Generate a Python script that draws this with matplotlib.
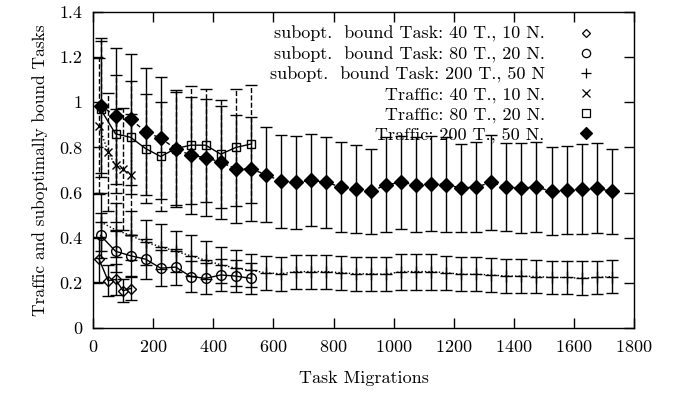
import matplotlib
matplotlib.use("Agg")
import matplotlib.pyplot as plt
from matplotlib.lines import Line2D
from matplotlib.ticker import FuncFormatter

plt.rcParams["font.family"] = ["cmr10", "DejaVu Serif"]
plt.rcParams["axes.formatter.use_mathtext"] = True
plt.rcParams["mathtext.fontset"] = "cm"

# migrations axis for the long runs (200 tasks, 50 nodes)
x_long = [25, 75, 125, 175, 225, 275, 325, 375, 425, 475, 525, 575, 625, 675,
          725, 775, 825, 875, 925, 975, 1025, 1075, 1125, 1175, 1225, 1275,
          1325, 1375, 1425, 1475, 1525, 1575, 1625, 1675, 1725]
x_mid = [25, 75, 125, 175, 225, 275, 325, 375, 425, 475, 525]
x_short = [20, 50, 75, 100, 125]

# subopt. bound tasks
sub40 = [0.305, 0.21, 0.215, 0.165, 0.175]
sub40_err = [0.10, 0.07, 0.07, 0.05, 0.05]
sub80 = [0.41, 0.34, 0.32, 0.305, 0.265, 0.27, 0.228, 0.22, 0.235, 0.23, 0.22]
sub80_err = [0.10, 0.09, 0.09, 0.09, 0.08, 0.08, 0.07, 0.07, 0.07, 0.07, 0.07]
sub200 = [0.47, 0.435, 0.41, 0.38, 0.36, 0.34, 0.32, 0.30, 0.28, 0.265, 0.255,
          0.245, 0.24, 0.25, 0.25, 0.25, 0.245, 0.24, 0.24, 0.238, 0.25, 0.25,
          0.25, 0.245, 0.238, 0.238, 0.235, 0.23, 0.23, 0.228, 0.224, 0.224,
          0.22, 0.224, 0.228]
sub200_err = [0.13, 0.12, 0.11, 0.10, 0.10, 0.09, 0.09, 0.085, 0.08, 0.08, 0.075,
              0.075, 0.075, 0.075, 0.075, 0.075, 0.075, 0.075, 0.075, 0.075, 0.08,
              0.08, 0.08, 0.075, 0.075, 0.075, 0.075, 0.075, 0.075, 0.075, 0.075,
              0.075, 0.075, 0.075, 0.075]

# traffic
traf40 = [0.895, 0.78, 0.72, 0.705, 0.68]
traf40_err = [0.30, 0.26, 0.25, 0.27, 0.27]
traf80 = [0.97, 0.86, 0.845, 0.795, 0.76, 0.795, 0.81, 0.81, 0.77, 0.80, 0.815]
traf80_err = [0.30, 0.26, 0.25, 0.24, 0.24, 0.25, 0.26, 0.25, 0.24, 0.26, 0.26]
traf200 = [0.985, 0.94, 0.925, 0.87, 0.84, 0.795, 0.765, 0.755, 0.735, 0.705,
           0.705, 0.68, 0.65, 0.645, 0.655, 0.645, 0.625, 0.618, 0.605, 0.635,
           0.645, 0.635, 0.64, 0.635, 0.62, 0.625, 0.645, 0.625, 0.62, 0.625,
           0.605, 0.61, 0.615, 0.62, 0.605]
traf200_err = [0.30, 0.30, 0.29, 0.28, 0.27, 0.26, 0.26, 0.26, 0.25, 0.24, 0.23,
               0.21, 0.205, 0.205, 0.205, 0.20, 0.20, 0.195, 0.19, 0.21, 0.205,
               0.21, 0.21, 0.21, 0.195, 0.20, 0.21, 0.195, 0.20, 0.20, 0.195,
               0.195, 0.20, 0.20, 0.19]

labels = ["subopt.  bound Task: 40 T., 10 N.",
          "subopt.  bound Task: 80 T., 20 N.",
          "subopt.  bound Task: 200 T., 50 N",
          "Traffic: 40 T., 10 N.",
          "Traffic: 80 T., 20 N.",
          "Traffic: 200 T., 50 N."]

fig = plt.figure(figsize=(6.79, 3.94), dpi=100)
ax = fig.add_axes([0.137, 0.1675, 0.797, 0.802])

series = [
    # x, y, err, marker, fill, line style, bar style, marker size
    (x_short, sub40, sub40_err, "D", "none", "-", "-", 5),
    (x_mid, sub80, sub80_err, "o", "none", "-", "-", 7),
    (x_long, sub200, sub200_err, "+", "k", (0, (1, 1.5)), "-", 8),
    (x_short, traf40, traf40_err, "x", "k", (0, (1, 1.5)), "--", 6),
    (x_mid, traf80, traf80_err, "s", "none", "-", "--", 6),
    (x_long, traf200, traf200_err, "D", "k", (0, (3, 2)), "-", 7),
]

for xs, ys, es, mk, fc, ls, bs, ms in series:
    eb = ax.errorbar(xs, ys, yerr=es, fmt="none", ecolor="k", elinewidth=1.0,
                     capsize=4.5, capthick=1.0)
    eb[2][0].set_linestyle(bs)
    ax.plot(xs, ys, color="k", linestyle=ls, linewidth=1.0, marker=mk,
            markersize=ms, markerfacecolor=fc, markeredgecolor="k",
            markeredgewidth=1.0)

handles = []
for (xs, ys, es, mk, fc, ls, bs, ms) in series:
    handles.append(Line2D([], [], linestyle="none", marker=mk, color="k",
                          markerfacecolor=fc, markersize=ms * 0.85,
                          markeredgewidth=0.9))
ax.legend(handles, labels, loc="upper right", frameon=False, markerfirst=False,
          fontsize=13, handlelength=1.0, handletextpad=1.8, labelspacing=0.22,
          borderaxespad=0.2, bbox_to_anchor=(0.948, 0.99))

ax.set_xlim(0, 1800)
ax.set_ylim(0, 1.4)
ax.set_xticks([0, 200, 400, 600, 800, 1000, 1200, 1400, 1600, 1800])
ax.set_yticks([0, 0.2, 0.4, 0.6, 0.8, 1.0, 1.2, 1.4])
ax.yaxis.set_major_formatter(FuncFormatter(lambda v, p: "%g" % v))
ax.tick_params(direction="in", length=7, width=1.0, top=True, right=True,
               labelsize=13, pad=8)
for s in ax.spines.values():
    s.set_linewidth(1.0)

ax.set_xlabel("Task Migrations", fontsize=13, labelpad=11)
ax.set_ylabel("Traffic and suboptimally bound Tasks", fontsize=12.5, labelpad=8)

fig.savefig("out.png", dpi=100)
